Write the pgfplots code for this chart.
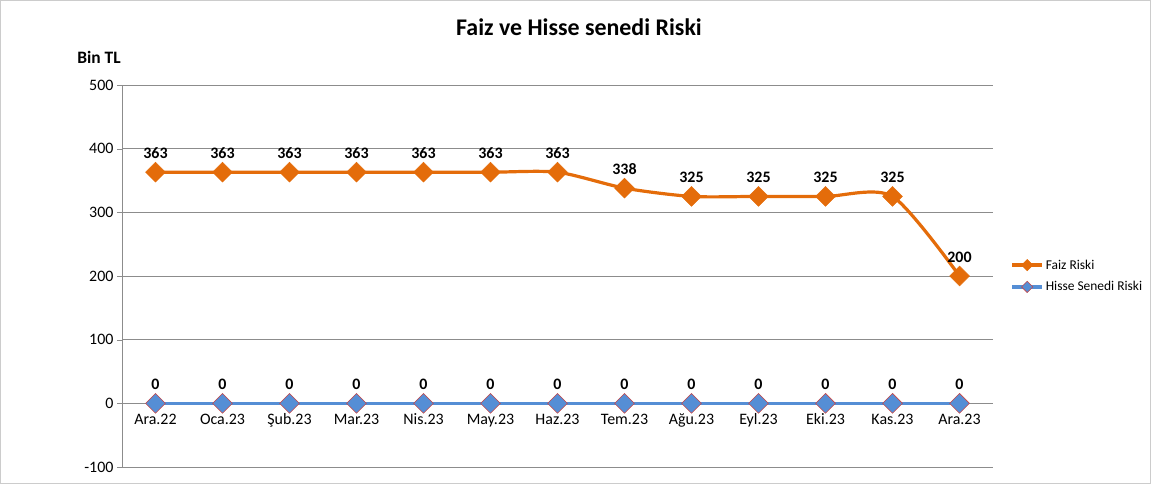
\documentclass[border=0pt]{standalone}
\usepackage{pgfplots}
\pgfplotsset{compat=1.18}
\usepackage{fontspec}
\setmainfont{Carlito}
\definecolor{faiz}{RGB}{228,108,10}
\definecolor{hisse}{RGB}{85,142,213}
\definecolor{hedge}{RGB}{200,70,70}
\definecolor{gridc}{RGB}{140,140,140}
\begin{document}
\begin{tikzpicture}
\path[use as bounding box] (0bp,0bp) rectangle (1151bp,484bp);
\draw[gray!40,line width=0.8bp] (0.5bp,0.5bp) rectangle (1150.5bp,483.5bp);
\node[font=\bfseries\fontsize{24}{28}\selectfont] at (579bp,457bp) {Faiz ve Hisse senedi Riski};
\node[font=\bfseries\fontsize{17.5}{20}\selectfont] at (99bp,427bp) {Bin TL};
\begin{axis}[
  at={(122bp,17bp)}, anchor=south west,
  width=871bp, height=382bp, scale only axis,
  xmin=-0.5, xmax=12.5, ymin=-100, ymax=500,
  axis x line=middle, axis y line=left,
  axis line style={gridc, -},
  xtick={0,...,12},
  xticklabels={Ara.22,Oca.23,Şub.23,Mar.23,Nis.23,May.23,Haz.23,Tem.23,Ağu.23,Eyl.23,Eki.23,Kas.23,Ara.23},
  xticklabel style={font=\fontsize{16}{18}\selectfont, yshift=-2bp},
  major x tick style={draw=none},
  ytick={-100,0,100,200,300,400,500},
  yticklabel style={font=\fontsize{16}{18}\selectfont},
  /pgf/number format/assume math mode=true,
  ymajorgrids, grid style={gridc, line width=0.6bp},
  tick style={gridc}, major tick length=5bp, tick align=outside,
  legend style={at={(1.02,0.5)}, anchor=west, draw=none, fill=none,
    font=\fontsize{13.5}{15}\selectfont, row sep=7bp, legend cell align=left,
    inner sep=0pt},
  legend image code/.code={\draw[#1] (0bp,0bp) -- (30bp,0bp); \path[#1, mark repeat=1, mark size=4bp] plot coordinates {(15bp,0bp)};},
  clip=false,
]
\addplot[faiz, line width=3.2bp, smooth, tension=0.45, mark=square*, mark size=7bp,
  mark options={solid, rotate=45, fill=faiz, draw=faiz, line width=0.5bp},
  nodes near coords, every node near coord/.append style={black, font=\bfseries\fontsize{16}{18}\selectfont, yshift=10bp}]
coordinates {(0,363)(1,363)(2,363)(3,363)(4,363)(5,363)(6,363)(7,338)(8,325)(9,325)(10,325)(11,325)(12,200)};
\addlegendentry{Faiz Riski}
\addplot[hisse, line width=3.2bp, mark=square*, mark size=7bp,
  mark options={solid, rotate=45, fill=hisse, draw=hedge, line width=0.6bp},
  nodes near coords, every node near coord/.append style={black, font=\bfseries\fontsize{16}{18}\selectfont, yshift=10bp}]
coordinates {(0,0)(1,0)(2,0)(3,0)(4,0)(5,0)(6,0)(7,0)(8,0)(9,0)(10,0)(11,0)(12,0)};
\addlegendentry{Hisse Senedi Riski}
\end{axis}
\end{tikzpicture}
\end{document}
